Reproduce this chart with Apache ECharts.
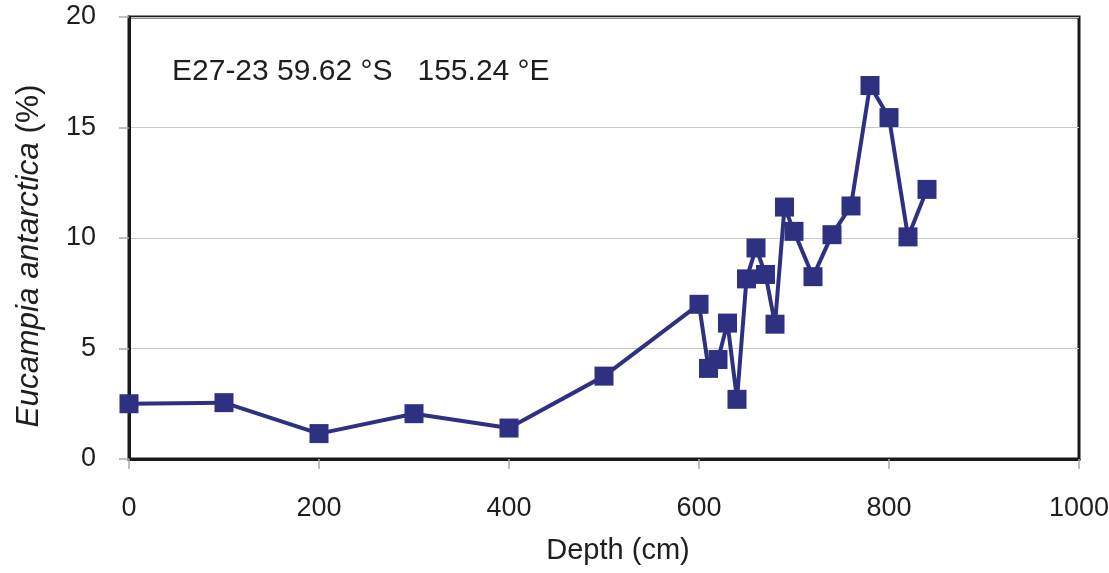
<!DOCTYPE html>
<html>
<head>
<meta charset="utf-8">
<script src="https://cdn.jsdelivr.net/npm/echarts@6/dist/echarts.min.js"></script>
<style>
  html, body { margin: 0; padding: 0; background: #ffffff; }
  #chart { width: 1109px; height: 573px; }
</style>
</head>
<body>
<div id="chart"></div>
<script>
// Core E27-23: relative abundance of Eucampia antarctica down-core
const depthCm = [0, 100, 200, 300, 400, 500, 600, 610, 620, 630, 640, 650, 660, 670, 680, 690, 700, 720, 740, 760, 780, 800, 820, 840];
const eucampiaPct = [2.5, 2.55, 1.15, 2.05, 1.4, 3.75, 7.0, 4.1, 4.5, 6.15, 2.7, 8.15, 9.55, 8.35, 6.1, 11.4, 10.3, 8.25, 10.15, 11.45, 16.9, 15.45, 10.05, 12.2];
const xTicks = [0, 200, 400, 600, 800, 1000];
const yTicks = [0, 5, 10, 15, 20];
const siteLabel = 'E27-23 59.62 °S   155.24 °E';
const xTitle = 'Depth (cm)';
const yTitleTaxon = 'Eucampia antarctica';
const yTitleUnit = ' (%)';

const chart = echarts.init(document.getElementById('chart'), null, { renderer: 'canvas' });

const fontFamily = 'Liberation Sans, Arial, sans-serif';
const textColor = '#1e1e1e';
const markColor = '#2E3182';

chart.setOption({
  backgroundColor: '#ffffff',
  animation: false,
  grid: {
    left: 129, right: 30, top: 17, bottom: 114,
    outerBoundsMode: 'none',
    containLabel: false,
    show: true, borderColor: '#1a1a1a', borderWidth: 3, backgroundColor: 'transparent'
  },
  xAxis: {
    type: 'value',
    min: xTicks[0], max: xTicks[xTicks.length - 1], interval: 200,
    axisLine: { show: true, lineStyle: { color: '#1a1a1a', width: 3 } },
    axisTick: { show: true, length: 10, lineStyle: { color: '#aaaaaa', width: 1.5 } },
    axisLabel: { margin: 36, fontFamily, fontSize: 27, color: textColor, formatter: v => String(v) },
    splitLine: { show: false }
  },
  yAxis: {
    type: 'value',
    min: yTicks[0], max: yTicks[yTicks.length - 1], interval: 5,
    axisLine: { show: true, lineStyle: { color: '#1a1a1a', width: 3 } },
    axisTick: { show: true, length: 10, lineStyle: { color: '#aaaaaa', width: 1.5 } },
    axisLabel: { margin: 33, fontFamily, fontSize: 27, color: textColor, formatter: v => String(v) },
    splitLine: { show: true, lineStyle: { color: '#c8c8c8', width: 1.2 } }
  },
  graphic: [
    {
      type: 'text', left: 172, top: 57, z: 10,
      style: { text: siteLabel, fontFamily, fontSize: 30, fill: textColor }
    },
    {
      type: 'text', x: 618, y: 551, z: 10,
      style: { text: xTitle, fontFamily, fontSize: 29, fill: textColor, align: 'center', verticalAlign: 'middle' }
    },
    {
      type: 'text', x: 29, y: 256, rotation: Math.PI / 2, z: 10,
      style: {
        text: '{it|' + yTitleTaxon + '}{n|' + yTitleUnit + '}',
        align: 'center', verticalAlign: 'middle',
        rich: {
          it: { fontFamily, fontSize: 31.5, fontStyle: 'italic', fill: textColor },
          n: { fontFamily, fontSize: 31.5, fill: textColor }
        }
      }
    }
  ],
  series: [{
    type: 'line',
    data: depthCm.map((d, i) => [d, eucampiaPct[i]]),
    symbol: 'rect', symbolSize: 19,
    lineStyle: { color: markColor, width: 4 },
    itemStyle: { color: markColor, borderWidth: 0 },
    clip: false
  }]
});
</script>
</body>
</html>
